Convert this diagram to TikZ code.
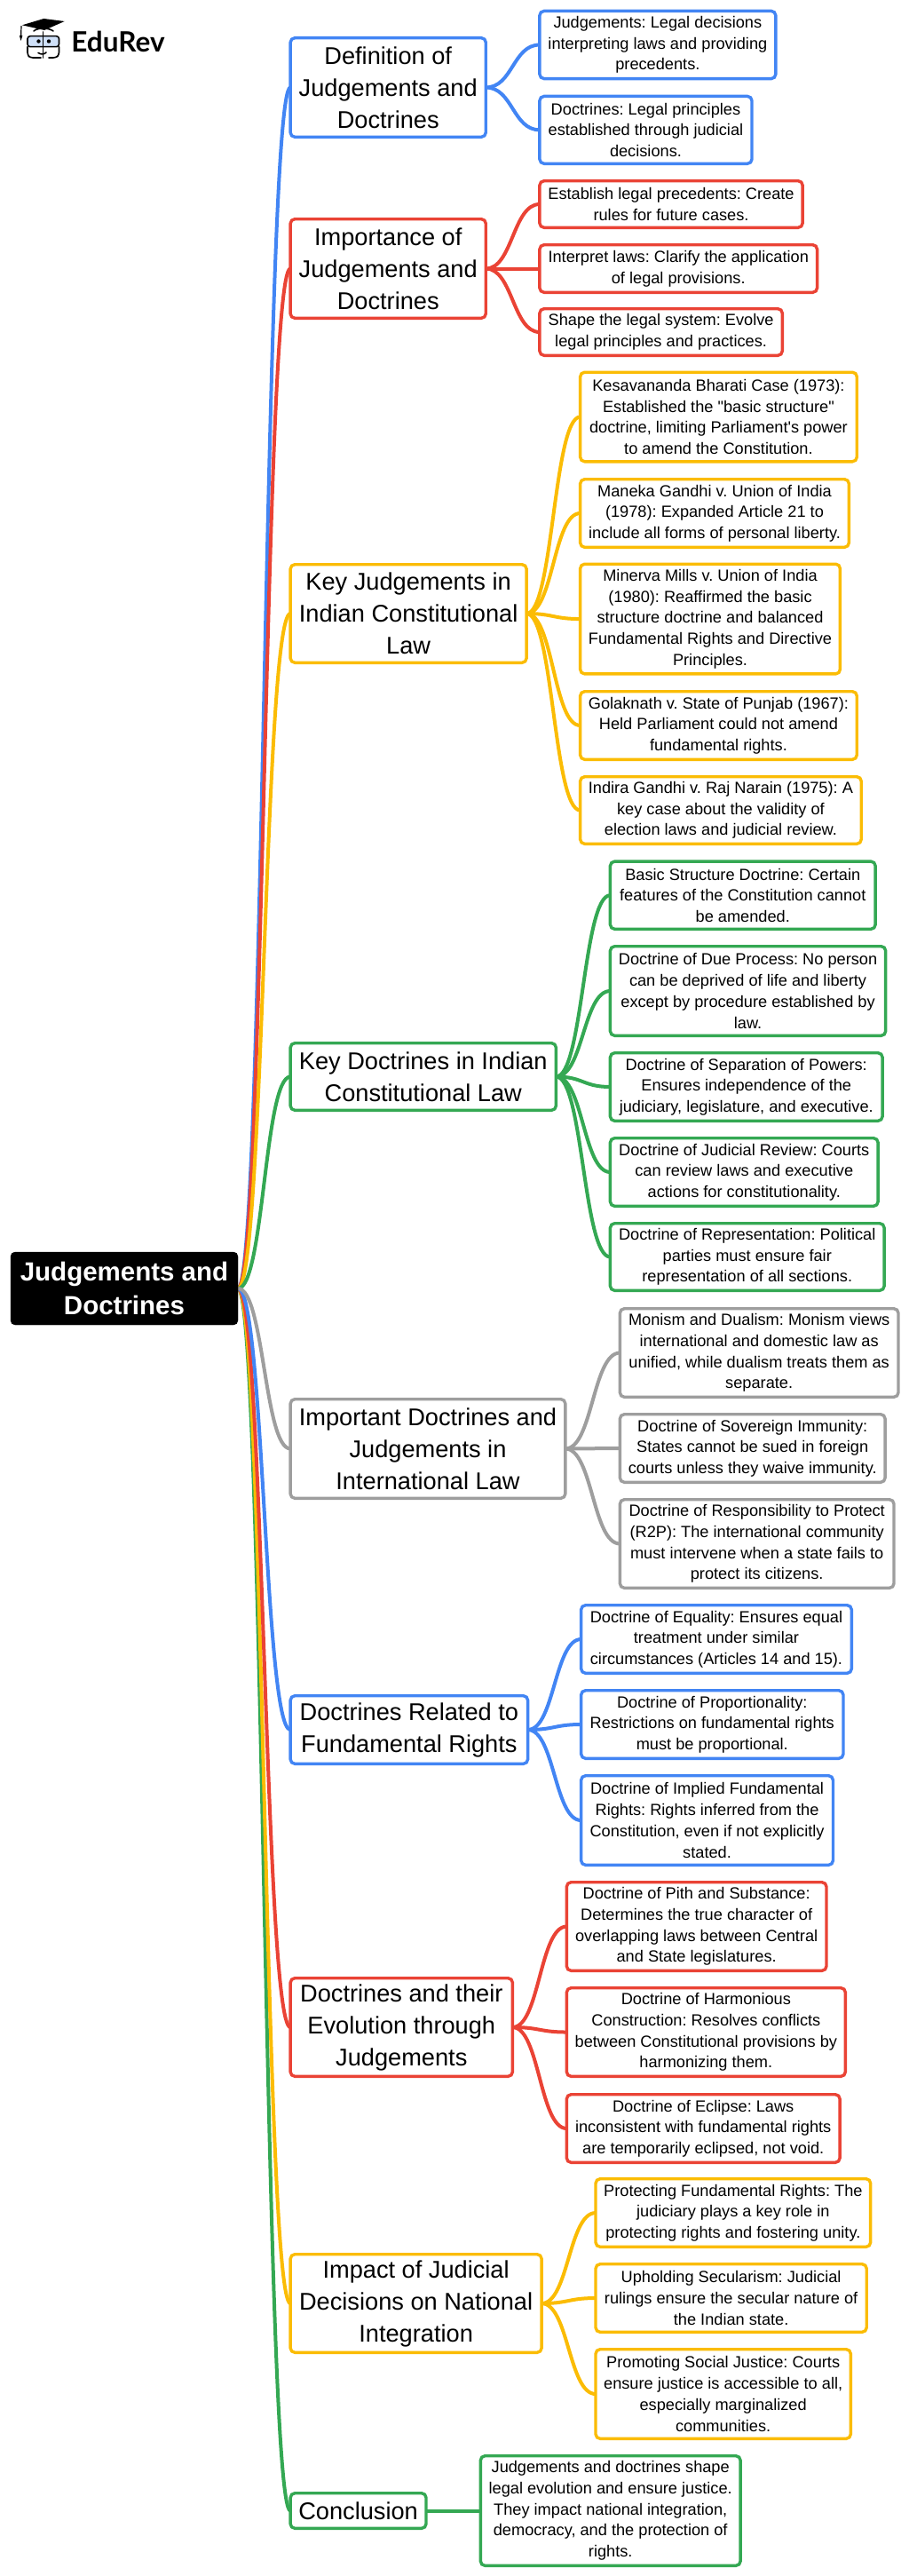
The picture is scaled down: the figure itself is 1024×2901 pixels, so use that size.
\documentclass[tikz,border=0pt]{standalone}
\usepackage{fontspec}
\setmainfont{Liberation Sans}[Ligatures=TeXOff]
\newfontfamily\logofont{Lato}
\usetikzlibrary{calc}
\definecolor{cblue}{HTML}{4285F4}
\definecolor{cred}{HTML}{EA4335}
\definecolor{cyel}{HTML}{FBBC04}
\definecolor{cgrn}{HTML}{34A853}
\definecolor{cgry}{HTML}{9E9E9E}
\definecolor{lens}{HTML}{CFE0F8}
\frenchspacing
\tikzset{
  base/.style={draw,rounded corners=5pt,line width=3.4pt,fill=white,inner sep=0pt,outer sep=0pt,align=center,text=black},
  mainbox/.style={base,font=\fontsize{27.2}{36}\selectfont},
  subbox/.style={base,font=\fontsize{18.2}{23.7}\selectfont},
  rootbox/.style={draw=black,fill=black,rounded corners=5pt,inner sep=0pt,outer sep=0pt,align=center,text=white,font=\fontsize{29.5}{38}\selectfont\bfseries},
  link/.style={line width=4pt},
  logoline/.style={line width=1.6pt,draw=black,line cap=round,line join=round}
}
% name, x1, y1, x2, y2, style, colour, text
\newcommand\bx[8]{%
  \pgfmathsetmacro\bw{(#4-#2)*0.9938-3.4}\pgfmathsetmacro\bh{#5-#3-3.4}%
  \pgfmathsetmacro\bcx{(#2+#4)/2*0.9938}\pgfmathsetmacro\bcy{(#3+#5)/2}%
  \node[#6,draw=#7,minimum width=\bw pt,minimum height=\bh pt] (#1) at (\bcx,\bcy) {#8};}
\newcommand\conn[3]{%
  \draw[link,#3] (#1.east) .. controls ($(#1.east)!.5!(#1.east -| #2.west)$) and ($(#2.west)!.5!(#2.west -| #1.east)$) .. (#2.west);}
\begin{document}
\begin{tikzpicture}[x=1pt,y=-1pt]
\useasboundingbox (0,0) rectangle (1024,2901);
\pgfdeclarelayer{top}\pgfsetlayers{main,top}
\begin{pgfonlayer}{top}
\node[rootbox,minimum width=256pt,minimum height=82pt] (root) at (140,1451) {Judgements and\\Doctrines};
\bx{m1}{327.5}{41}{552.4}{156}{mainbox}{cblue}{Definition of\\Judgements and\\Doctrines}
\bx{a1}{610}{10.7}{881}{90.3}{subbox}{cblue}{Judgements: Legal decisions\\interpreting laws and providing\\precedents.}
\bx{a2}{610}{106.7}{854}{186}{subbox}{cblue}{Doctrines: Legal principles\\established through judicial\\decisions.}
\bx{m2}{327.5}{245}{552.4}{360}{mainbox}{cred}{Importance of\\Judgements and\\Doctrines}
\bx{b1}{610}{202}{911.5}{258}{subbox}{cred}{Establish legal precedents: Create\\rules for future cases.}
\bx{b2}{610}{274}{928}{331}{subbox}{cred}{Interpret laws: Clarify the application\\of legal provisions.}
\bx{b3}{610}{346}{888.5}{402}{subbox}{cred}{Shape the legal system: Evolve\\legal principles and practices.}
\bx{m3}{327.5}{634}{598.5}{748}{mainbox}{cyel}{Key Judgements in\\Indian Constitutional\\Law}
\bx{c1}{656}{417.5}{973}{521.5}{subbox}{cyel}{Kesavananda Bharati Case (1973):\\Established the "basic structure"\\doctrine, limiting Parliament's power\\to amend the Constitution.}
\bx{c2}{656}{538}{964}{618}{subbox}{cyel}{Maneka Gandhi v. Union of India\\(1978): Expanded Article 21 to\\include all forms of personal liberty.}
\bx{c3}{656}{633.5}{954}{760.6}{subbox}{cyel}{Minerva Mills v. Union of India\\(1980): Reaffirmed the basic\\structure doctrine and balanced\\Fundamental Rights and Directive\\Principles.}
\bx{c4}{656}{777}{973}{857}{subbox}{cyel}{Golaknath v. State of Punjab (1967):\\Held Parliament could not amend\\fundamental rights.}
\bx{c5}{656}{873}{978}{952}{subbox}{cyel}{Indira Gandhi v. Raj Narain (1975): A\\key case about the validity of\\election laws and judicial review.}
\bx{m4}{327.5}{1173}{632}{1252}{mainbox}{cgrn}{Key Doctrines in Indian\\Constitutional Law}
\bx{d1}{690}{968.4}{994}{1048}{subbox}{cgrn}{Basic Structure Doctrine: Certain\\features of the Constitution cannot\\be amended.}
\bx{d2}{690}{1064}{1005.6}{1168}{subbox}{cgrn}{Doctrine of Due Process: No person\\can be deprived of life and liberty\\except by procedure established by\\law.}
\bx{d3}{690}{1184}{1002}{1264}{subbox}{cgrn}{Doctrine of Separation of Powers:\\Ensures independence of the\\judiciary, legislature, and executive.}
\bx{d4}{690}{1280}{997}{1360}{subbox}{cgrn}{Doctrine of Judicial Review: Courts\\can review laws and executive\\actions for constitutionality.}
\bx{d5}{690}{1376}{1004}{1455}{subbox}{cgrn}{Doctrine of Representation: Political\\parties must ensure fair\\representation of all sections.}
\bx{m5}{327.5}{1574}{642.5}{1689}{mainbox}{cgry}{Important Doctrines and\\Judgements in\\International Law}
\bx{e1}{701}{1472}{1020}{1575}{subbox}{cgry}{Monism and Dualism: Monism views\\international and domestic law as\\unified, while dualism treats them as\\separate.}
\bx{e2}{701}{1591}{1005}{1671}{subbox}{cgry}{Doctrine of Sovereign Immunity:\\States cannot be sued in foreign\\courts unless they waive immunity.}
\bx{e3}{701}{1687}{1015}{1790}{subbox}{cgry}{Doctrine of Responsibility to Protect\\(R2P): The international community\\must intervene when a state fails to\\protect its citizens.}
\bx{m6}{327.5}{1908}{600}{1988}{mainbox}{cblue}{Doctrines Related to\\Fundamental Rights}
\bx{f1}{657}{1806}{967}{1886}{subbox}{cblue}{Doctrine of Equality: Ensures equal\\treatment under similar\\circumstances (Articles 14 and 15).}
\bx{f2}{657}{1902}{957.6}{1982}{subbox}{cblue}{Doctrine of Proportionality:\\Restrictions on fundamental rights\\must be proportional.}
\bx{f3}{657}{1998}{946}{2102}{subbox}{cblue}{Doctrine of Implied Fundamental\\Rights: Rights inferred from the\\Constitution, even if not explicitly\\stated.}
\bx{m7}{327.5}{2226}{582.7}{2340}{mainbox}{cred}{Doctrines and their\\Evolution through\\Judgements}
\bx{g1}{640.6}{2118}{938.5}{2221}{subbox}{cred}{Doctrine of Pith and Substance:\\Determines the true character of\\overlapping laws between Central\\and State legislatures.}
\bx{g2}{640.6}{2237}{960}{2340}{subbox}{cred}{Doctrine of Harmonious\\Construction: Resolves conflicts\\between Constitutional provisions by\\harmonizing them.}
\bx{g3}{640.6}{2357}{953.7}{2437}{subbox}{cred}{Doctrine of Eclipse: Laws\\inconsistent with fundamental rights\\are temporarily eclipsed, not void.}
\bx{m8}{327.5}{2537}{615.6}{2651}{mainbox}{cyel}{Impact of Judicial\\Decisions on National\\Integration}
\bx{h1}{673.5}{2452}{988.5}{2532}{subbox}{cyel}{Protecting Fundamental Rights: The\\judiciary plays a key role in\\protecting rights and fostering unity.}
\bx{h2}{673.5}{2548}{984}{2628}{subbox}{cyel}{Upholding Secularism: Judicial\\rulings ensure the secular nature of\\the Indian state.}
\bx{h3}{673.5}{2644}{966}{2748}{subbox}{cyel}{Promoting Social Justice: Courts\\ensure justice is accessible to all,\\especially marginalized\\communities.}
\bx{m9}{327.5}{2806}{484.7}{2849}{mainbox}{cgrn}{Conclusion}
\bx{i1}{543}{2764}{841}{2891}{subbox}{cgrn}{Judgements and doctrines shape\\legal evolution and ensure justice.\\They impact national integration,\\democracy, and the protection of\\rights.}
\end{pgfonlayer}
\conn{root}{m1}{cblue}
\conn{root}{m2}{cred}
\conn{root}{m3}{cyel}
\conn{root}{m4}{cgrn}
\conn{root}{m9}{cgrn}
\conn{root}{m8}{cyel}
\conn{root}{m7}{cred}
\conn{root}{m6}{cblue}
\conn{root}{m5}{cgry}
\foreach \c in {a1,a2}{\conn{m1}{\c}{cblue}}
\foreach \c in {b1,b2,b3}{\conn{m2}{\c}{cred}}
\foreach \c in {c1,c2,c3,c4,c5}{\conn{m3}{\c}{cyel}}
\foreach \c in {d1,d2,d3,d4,d5}{\conn{m4}{\c}{cgrn}}
\foreach \c in {e1,e2,e3}{\conn{m5}{\c}{cgry}}
\foreach \c in {f1,f2,f3}{\conn{m6}{\c}{cblue}}
\foreach \c in {g1,g2,g3}{\conn{m7}{\c}{cred}}
\foreach \c in {h1,h2,h3}{\conn{m8}{\c}{cyel}}
\conn{m9}{i1}{cgrn}
% logo
\draw[logoline,fill=lens,rounded corners=3pt] (31,40.7) rectangle (66.5,52.7);
\draw[logoline,rounded corners=3pt] (31,52.7) -- (31,62) -- (34,65) -- (46,65);
\draw[logoline,rounded corners=3pt] (66.5,52.7) -- (66.5,62) -- (63,65) -- (55,65);
\draw[logoline] (48.5,36) -- (48.5,65);
\fill (43.5,46.5) circle (2.2pt);
\fill (55,46.5) circle (2.2pt);
\draw[logoline] (43,59.5) .. controls (46,61.5) and (50,61.5) .. (52,59);
\fill[black,line join=round] (25,28.3) -- (49.3,21) -- (72.7,24) -- (50,34) -- cycle;
\draw[logoline] (38,35) .. controls (42,31) and (55,31) .. (60,35);
\draw[logoline,line width=1.2pt] (24,29.5) -- (23.6,41);
\fill (21.8,40) -- (25.4,40) -- (23.6,46) -- cycle;
\node[anchor=base west,inner sep=0pt,font=\fontsize{31.5}{36}\logofont\bfseries] (logo) at (80.2,59) {EduRev};
\end{tikzpicture}
\end{document}
